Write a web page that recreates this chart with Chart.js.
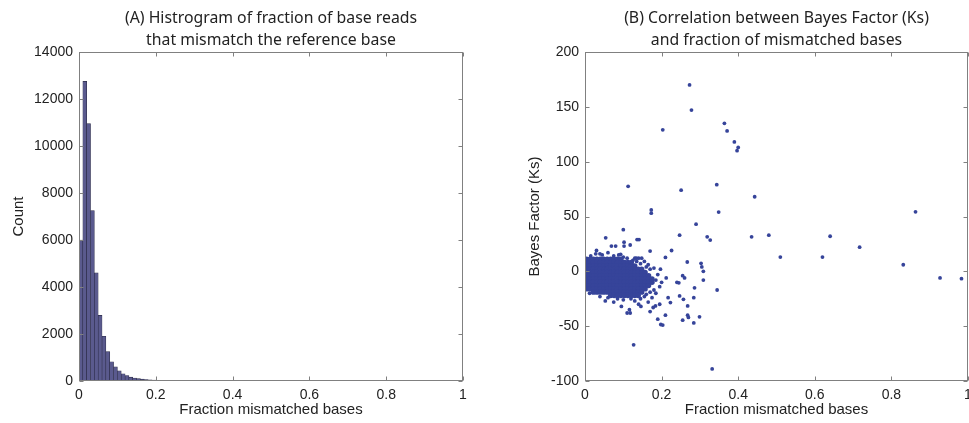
<!DOCTYPE html>
<html><head><meta charset="utf-8">
<script src="https://cdn.jsdelivr.net/npm/chart.js@4.4.1/dist/chart.umd.min.js"></script>
<style>
html,body{margin:0;padding:0;background:#fff;overflow:hidden;width:969px;height:423px;}
#wrapA{position:absolute;left:0;top:0;width:484px;height:423px;}
#wrapB{position:absolute;left:484px;top:0;width:520px;height:423px;}
</style></head><body>
<div id="wrapA"><canvas id="cA" width="484" height="423"></canvas></div>
<div id="wrapB"><canvas id="cB" width="520" height="423"></canvas></div>
<script>
// ---------- Panel A: histogram ----------
const histBinCenters = [0.005,0.015,0.025,0.035,0.045,0.055,0.065,0.075,0.085,0.095,
  0.105,0.115,0.125,0.135,0.145,0.155,0.165,0.175,0.185,0.195,
  0.205,0.215,0.225,0.235,0.245,0.255,0.265,0.275,0.285,0.295,
  0.305,0.315,0.325,0.335,0.345,0.355,0.365,0.375,0.385,0.395];
const histCounts = [6000,12750,10950,7250,4600,2790,1900,1250,820,600,
  430,310,230,165,127,100,78,60,46,36,
  28,22,17,14,11,24,8,6,5,4,
  4,3,3,2,2,2,1,1,1,1];
const histXTicks = [0,0.2,0.4,0.6,0.8,1];
const histYTicks = [0,2000,4000,6000,8000,10000,12000,14000];

// ---------- Panel B: scatter ----------
// dense core of the point cloud
const clusterPoints = [
 [0.004,11],[0.013,11],[0.022,11],[0.031,11],[0.040,11],[0.049,11],[0.058,11],[0.067,11],[0.076,11],[0.085,11],[0.094,11],
 [0.004,8],[0.013,8],[0.022,8],[0.031,8],[0.040,8],[0.049,8],[0.058,8],[0.067,8],[0.076,8],[0.085,8],[0.094,8],[0.103,8],[0.112,8],[0.121,8],
 [0.004,5],[0.013,5],[0.022,5],[0.031,5],[0.040,5],[0.049,5],[0.058,5],[0.067,5],[0.076,5],[0.085,5],[0.094,5],[0.103,5],[0.112,5],[0.121,5],[0.130,5],
 [0.004,2],[0.013,2],[0.022,2],[0.031,2],[0.040,2],[0.049,2],[0.058,2],[0.067,2],[0.076,2],[0.085,2],[0.094,2],[0.103,2],[0.112,2],[0.121,2],[0.130,2],[0.139,2],[0.148,2],
 [0.004,-1],[0.013,-1],[0.022,-1],[0.031,-1],[0.040,-1],[0.049,-1],[0.058,-1],[0.067,-1],[0.076,-1],[0.085,-1],[0.094,-1],[0.103,-1],[0.112,-1],[0.121,-1],[0.130,-1],[0.139,-1],[0.148,-1],[0.157,-1],
 [0.004,-4],[0.013,-4],[0.022,-4],[0.031,-4],[0.040,-4],[0.049,-4],[0.058,-4],[0.067,-4],[0.076,-4],[0.085,-4],[0.094,-4],[0.103,-4],[0.112,-4],[0.121,-4],[0.130,-4],[0.139,-4],[0.148,-4],[0.157,-4],[0.166,-4],
 [0.004,-7],[0.013,-7],[0.022,-7],[0.031,-7],[0.040,-7],[0.049,-7],[0.058,-7],[0.067,-7],[0.076,-7],[0.085,-7],[0.094,-7],[0.103,-7],[0.112,-7],[0.121,-7],[0.130,-7],[0.139,-7],[0.148,-7],[0.157,-7],[0.166,-7],[0.175,-7],
 [0.004,-10],[0.013,-10],[0.022,-10],[0.031,-10],[0.040,-10],[0.049,-10],[0.058,-10],[0.067,-10],[0.076,-10],[0.085,-10],[0.094,-10],[0.103,-10],[0.112,-10],[0.121,-10],[0.130,-10],[0.139,-10],[0.148,-10],[0.157,-10],[0.166,-10],[0.175,-10],
 [0.004,-13],[0.013,-13],[0.022,-13],[0.031,-13],[0.040,-13],[0.049,-13],[0.058,-13],[0.067,-13],[0.076,-13],[0.085,-13],[0.094,-13],[0.103,-13],[0.112,-13],[0.121,-13],[0.130,-13],[0.139,-13],[0.148,-13],[0.157,-13],[0.166,-13],
 [0.004,-16],[0.013,-16],[0.022,-16],[0.031,-16],[0.040,-16],[0.049,-16],[0.058,-16],[0.067,-16],[0.076,-16],[0.085,-16],[0.094,-16],[0.103,-16],[0.112,-16],[0.121,-16],[0.130,-16],[0.139,-16],[0.148,-16],[0.157,-16],
 [0.022,-19],[0.031,-19],[0.040,-19],[0.049,-19],[0.058,-19],[0.067,-19],[0.076,-19],[0.085,-19],[0.094,-19],[0.103,-19],[0.112,-19],[0.121,-19],[0.130,-19],[0.139,-19],[0.148,-19],
 [0.067,-22],[0.076,-22],[0.085,-22],[0.094,-22],[0.103,-22],[0.112,-22],[0.121,-22],[0.130,-22],[0.139,-22]
];
// sparse points around the cloud
const fringePoints = [
 [0.015,14],[0.028,16],[0.045,15],[0.060,17],[0.075,14],[0.088,15],[0.100,13],[0.110,12],[0.125,10],[0.135,9],[0.145,7],[0.160,4],[0.170,2],
 [0.030,19],[0.039,16],[0.093,15.5],[0.054,30.6],[0.102,26.6],[0.102,23],[0.069,23],[0.080,23],[0.118,24],[0.136,29],[0.141,29],[0.100,38],
 [0.1126,77.5],[0.173,56],[0.173,53],[0.170,18.5],[0.226,19],[0.210,12.7],[0.130,12],[0.134,12],[0.140,12],[0.148,12],[0.155,9],[0.165,6],
 [0.180,3],[0.197,2],[0.190,-3],[0.185,-8],[0.200,-10],[0.195,-14],[0.180,-17],[0.212,-6],[0.240,-10],[0.245,-10.5],[0.255,-4],[0.260,-6],
 [0.267,8.5],[0.303,7.3],[0.305,4],[0.309,0],[0.309,-8],[0.286,-15],[0.345,-17],[0.247,-22.4],[0.257,-25.5],[0.284,-24],[0.223,-28.5],
 [0.217,-24],[0.268,-31.5],[0.195,-30],[0.184,-31.5],[0.178,-33],[0.053,-27],[0.039,-23],[0.095,-32],[0.110,-38],[0.116,-35],[0.118,-38],
 [0.146,-32],[0.170,-36.7],[0.210,-40],[0.268,-40],[0.270,-42],[0.299,-41.5],[0.255,-44.5],[0.284,-47],[0.190,-43.6],[0.198,-48.5],[0.203,-49],
 [0.127,-67],[0.332,-89],
 [0.020,-19],[0.012,-20],[0.060,-24],[0.085,-25],[0.100,-26],[0.120,-25],[0.130,-27],[0.145,-25],[0.155,-23],[0.160,-21],[0.170,-19],
 [0.175,-24],[0.185,-20],[0.165,-28],[0.140,-30],[0.075,-28]
];
const outlierPoints = [
 [0.273,170],[0.278,147],[0.203,129],[0.364,135],[0.371,128],[0.390,118],[0.400,113],[0.397,110],[0.251,74],[0.344,79],[0.443,68],
 [0.349,54],[0.290,43],[0.247,33],[0.319,31.5],[0.327,28.5],[0.435,31.5],[0.480,33],[0.640,32],[0.717,22],[0.510,13],[0.620,13],
 [0.863,54.3],[0.831,6],[0.927,-6],[0.983,-6.7]
];
const scatterXTicks = [0,0.2,0.4,0.6,0.8,1];
const scatterYTicks = [-100,-50,0,50,100,150,200];

// ---------- shared styling ----------
const TICK_FONT = {family:'"Liberation Sans", Arial, sans-serif', size:14};
const LABEL_FONT = {family:'"Liberation Sans", Arial, sans-serif', size:15};
const TITLE_FONT = {family:'"Noto Sans", sans-serif', size:15.8, weight:'normal', lineHeight:22/15.8};
const TEXT = '#222222';
const FRAME = '#808080';
const DOT = '#36449a';

const framePlugin = {
  id:'frame',
  afterDraw(chart){
    const {ctx, chartArea:a, scales:{x,y}} = chart;
    ctx.save();
    ctx.strokeStyle = FRAME; ctx.lineWidth = 1;
    const L = Math.round(a.left)+0.5, R = Math.round(a.right)-0.5, T = Math.round(a.top)+0.5, B = Math.round(a.bottom)-0.5;
    ctx.strokeRect(L, T, R-L, B-T);
    ctx.beginPath();
    x.ticks.forEach(t=>{const px=Math.round(x.getPixelForValue(t.value))+0.5; ctx.moveTo(px,B); ctx.lineTo(px,B-4); ctx.moveTo(px,T); ctx.lineTo(px,T+4);});
    y.ticks.forEach(t=>{const py=Math.round(y.getPixelForValue(t.value))+0.5; ctx.moveTo(L,py); ctx.lineTo(L+4,py); ctx.moveTo(R,py); ctx.lineTo(R-4,py);});
    ctx.stroke();
    ctx.restore();
  }
};

function tickList(values){ return function(scale){ scale.ticks = values.map(v=>({value:v})); }; }

function axisX(values, title){
  return {
    type:'linear', min:values[0], max:values[values.length-1], offset:false,
    afterBuildTicks: tickList(values),
    afterFit(scale){ scale.height = 42; },
    grid:{display:false, drawTicks:false, offset:false}, border:{display:false},
    ticks:{font:TICK_FONT, color:TEXT, padding:6, maxRotation:0, autoSkip:false, callback:v=>String(v)},
    title:{display:true, text:title, font:LABEL_FONT, color:TEXT, padding:{top:0,bottom:4}}
  };
}
function axisY(values, title, width, titlePad){
  return {
    type:'linear', min:values[0], max:values[values.length-1],
    afterBuildTicks: tickList(values),
    afterFit(scale){ scale.width = width; },
    grid:{display:false, drawTicks:false}, border:{display:false},
    ticks:{font:TICK_FONT, color:TEXT, padding:6, autoSkip:false, callback:v=>String(v)},
    title:{display:true, text:title, font:LABEL_FONT, color:TEXT, padding:{top:titlePad,bottom:0}}
  };
}
function titleOpts(lines){
  return {display:true, fullSize:false, text:lines, font:TITLE_FONT, color:TEXT, padding:{top:7,bottom:1}};
}

new Chart(document.getElementById('cA'), {
  type:'bar',
  data:{datasets:[{
    data: histBinCenters.map((c,i)=>({x:c, y:histCounts[i]})),
    backgroundColor:'#5a5a8e', borderColor:'#2c2c48', borderWidth:0.6,
    barPercentage:1.0, categoryPercentage:1.0
  }]},
  options:{
    responsive:false, animation:false, events:[],
    layout:{padding:{top:0,left:0,right:21,bottom:0}},
    plugins:{legend:{display:false}, tooltip:{enabled:false}, title:titleOpts(['(A) Histrogram of fraction of base reads','that mismatch the reference base'])},
    scales:{ x:axisX(histXTicks,'Fraction mismatched bases'), y:axisY(histYTicks,'Count',79,10) }
  },
  plugins:[framePlugin]
});

new Chart(document.getElementById('cB'), {
  type:'scatter',
  data:{datasets:[
    {data: clusterPoints.map(p=>({x:p[0], y:p[1]})),
     backgroundColor:DOT, borderWidth:0, pointRadius:2.7, pointHoverRadius:2.7},
    {data: fringePoints.concat(outlierPoints).map(p=>({x:p[0], y:p[1]})),
     backgroundColor:DOT, borderWidth:0, pointRadius:1.9, pointHoverRadius:1.9}
  ]},
  options:{
    responsive:false, animation:false, events:[],
    layout:{padding:{top:0,left:0,right:36,bottom:0}},
    plugins:{legend:{display:false}, tooltip:{enabled:false}, title:titleOpts(['(B) Correlation between Bayes Factor (Ks)','and fraction of mismatched bases'])},
    scales:{ x:axisX(scatterXTicks,'Fraction mismatched bases'), y:axisY(scatterYTicks,'Bayes Factor (Ks)',101,42) }
  },
  plugins:[framePlugin]
});
</script>
</body></html>
